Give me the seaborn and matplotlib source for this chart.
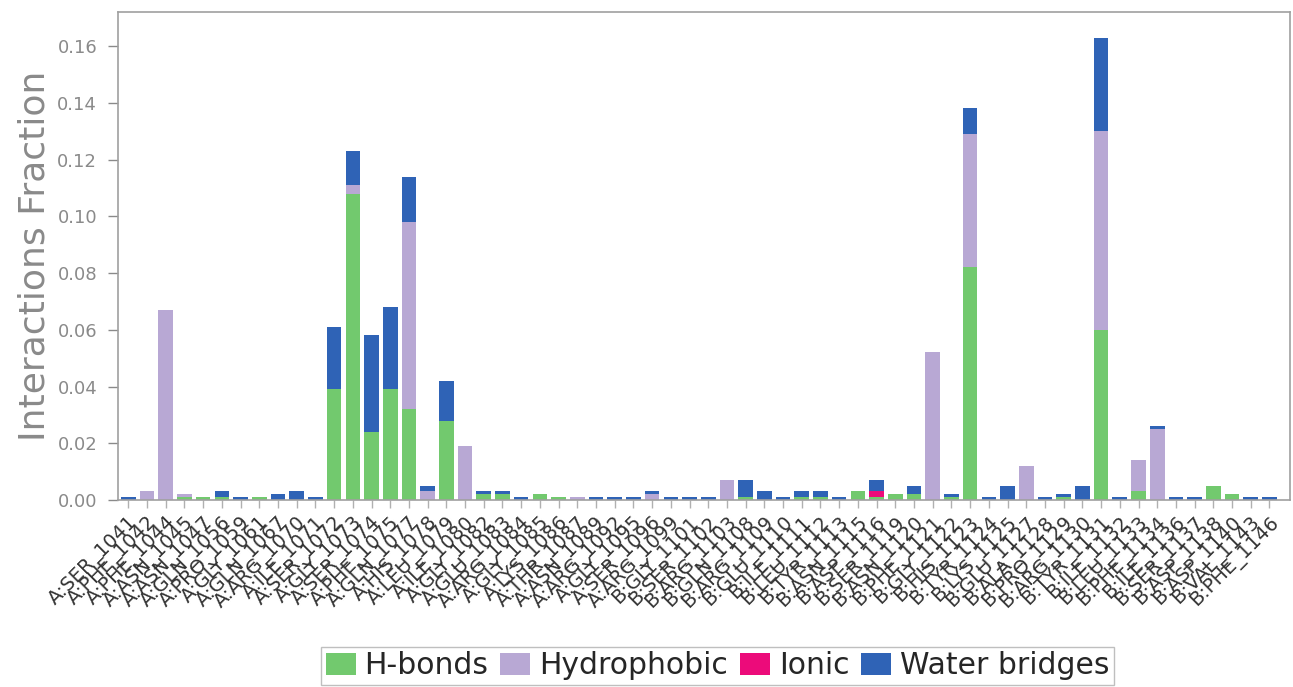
import matplotlib
matplotlib.use("Agg")
import matplotlib.pyplot as plt
from matplotlib.patches import Patch
import numpy as np
import pandas as pd
import seaborn as sns

residues = [
    "A:SER_1041", "A:PHE_1042", "A:PHE_1044", "A:ASN_1045", "A:ASN_1047", "A:GLN_1056",
    "A:PRO_1059", "A:GLY_1061", "A:GLN_1067", "A:ARG_1070", "A:ILE_1071", "A:SER_1072",
    "A:GLY_1073", "A:SER_1074", "A:PHE_1075", "A:GLN_1077", "A:HIS_1078", "A:LEU_1079",
    "A:ILE_1080", "A:GLY_1082", "A:GLU_1083", "A:ARG_1084", "A:GLY_1085", "A:LYS_1086",
    "A:THR_1087", "A:ASN_1089", "A:ARG_1092", "A:GLY_1095", "A:SER_1096", "A:ARG_1099",
    "B:GLY_1101", "B:SER_1102", "B:ARG_1103", "B:GLN_1108", "B:ARG_1109", "B:GLU_1110",
    "B:ILE_1111", "B:LEU_1112", "B:TYR_1113", "B:ASN_1115", "B:ASP_1116", "B:SER_1119",
    "B:ASN_1120", "B:PHE_1121", "B:GLY_1122", "B:HIS_1123", "B:TYR_1124", "B:LYS_1125",
    "B:GLU_1127", "B:ALA_1128", "B:PRO_1129", "B:ARG_1130", "B:TYR_1131", "B:ILE_1132",
    "B:LEU_1133", "B:PHE_1134", "B:ILE_1136", "B:SER_1137", "B:ASP_1138", "B:ASP_1140",
    "B:VAL_1143", "B:PHE_1146",
]

hbonds = [
    0.000, 0.000, 0.000, 0.001, 0.001, 0.001, 0.000, 0.001, 0.000, 0.000, 0.000, 0.039,
    0.108, 0.024, 0.039, 0.032, 0.000, 0.028, 0.000, 0.002, 0.002, 0.000, 0.002, 0.001,
    0.000, 0.000, 0.000, 0.000, 0.000, 0.000, 0.000, 0.000, 0.000, 0.001, 0.000, 0.000,
    0.001, 0.001, 0.000, 0.003, 0.001, 0.002, 0.002, 0.000, 0.001, 0.082, 0.000, 0.000,
    0.000, 0.000, 0.001, 0.000, 0.060, 0.000, 0.003, 0.000, 0.000, 0.000, 0.005, 0.002,
    0.000, 0.000,
]
hydrophobic = [
    0.000, 0.003, 0.067, 0.001, 0.000, 0.000, 0.000, 0.000, 0.000, 0.000, 0.000, 0.000,
    0.003, 0.000, 0.000, 0.066, 0.003, 0.000, 0.019, 0.000, 0.000, 0.000, 0.000, 0.000,
    0.001, 0.000, 0.000, 0.000, 0.002, 0.000, 0.000, 0.000, 0.007, 0.000, 0.000, 0.000,
    0.000, 0.000, 0.000, 0.000, 0.000, 0.000, 0.000, 0.052, 0.000, 0.047, 0.000, 0.000,
    0.012, 0.000, 0.000, 0.000, 0.070, 0.000, 0.011, 0.025, 0.000, 0.000, 0.000, 0.000,
    0.000, 0.000,
]
ionic = [
    0.000, 0.000, 0.000, 0.000, 0.000, 0.000, 0.000, 0.000, 0.000, 0.000, 0.000, 0.000,
    0.000, 0.000, 0.000, 0.000, 0.000, 0.000, 0.000, 0.000, 0.000, 0.000, 0.000, 0.000,
    0.000, 0.000, 0.000, 0.000, 0.000, 0.000, 0.000, 0.000, 0.000, 0.000, 0.000, 0.000,
    0.000, 0.000, 0.000, 0.000, 0.002, 0.000, 0.000, 0.000, 0.000, 0.000, 0.000, 0.000,
    0.000, 0.000, 0.000, 0.000, 0.000, 0.000, 0.000, 0.000, 0.000, 0.000, 0.000, 0.000,
    0.000, 0.000,
]
water_bridges = [
    0.001, 0.000, 0.000, 0.000, 0.000, 0.002, 0.001, 0.000, 0.002, 0.003, 0.001, 0.022,
    0.012, 0.034, 0.029, 0.016, 0.002, 0.014, 0.000, 0.001, 0.001, 0.001, 0.000, 0.000,
    0.000, 0.001, 0.001, 0.001, 0.001, 0.001, 0.001, 0.001, 0.000, 0.006, 0.003, 0.001,
    0.002, 0.002, 0.001, 0.000, 0.004, 0.000, 0.003, 0.000, 0.001, 0.009, 0.001, 0.005,
    0.000, 0.001, 0.001, 0.005, 0.033, 0.001, 0.000, 0.001, 0.001, 0.001, 0.000, 0.000,
    0.001, 0.001,
]

series_names = ["H-bonds", "Hydrophobic", "Ionic", "Water bridges"]
colors = ["#72c96e", "#b8a8d4", "#ec0b7a", "#2f63b6"]

df = pd.DataFrame({
    "residue": residues,
    "H-bonds": hbonds,
    "Hydrophobic": hydrophobic,
    "Ionic": ionic,
    "Water bridges": water_bridges,
})
cum = df[series_names].cumsum(axis=1)

sns.set_style("white")
fig = plt.figure(figsize=(12.93, 6.87), dpi=100)
ax = fig.add_axes([0.0913, 0.2722, 0.9064, 0.7103])

# draw cumulative totals from the top layer down so that lower layers overlay
for name, col in reversed(list(zip(series_names, colors))):
    sns.barplot(x=df["residue"], y=cum[name], color=col, ax=ax,
                width=0.78, saturation=1, linewidth=0, order=residues)

ax.set_xlim(-0.55, 62.1)
ax.set_ylim(0, 0.172)
yt = np.arange(0, 0.17, 0.02)
ax.set_yticks(yt)
ax.set_yticklabels([f"{v:.2f}" for v in yt])
ax.set_xlabel("")
ax.set_ylabel("Interactions Fraction", fontsize=26, color="#8a8a8a", labelpad=4)

ax.tick_params(axis="y", labelsize=13, colors="#8a8a8a", length=7, width=1,
               pad=8, left=True)
ax.tick_params(axis="x", labelsize=14, labelcolor="#333333", color="#b0b0b0",
               length=6, width=1, bottom=True)
plt.setp(ax.get_xticklabels(), rotation=45, ha="right", rotation_mode="anchor")

for s in ax.spines.values():
    s.set_color("#a0a0a0")
    s.set_linewidth(1.2)

handles = [Patch(facecolor=c, edgecolor="none", label=n) for n, c in zip(series_names, colors)]
fig.legend(handles=handles, loc="center", bbox_to_anchor=(0.555, 0.031), ncol=4,
           fontsize=21.5, frameon=True, edgecolor="#b0b0b0", fancybox=False,
           handlelength=1.0, handleheight=0.75, handletextpad=0.3, columnspacing=0.4,
           borderpad=0.15)

fig.savefig("out.png", dpi=100)
